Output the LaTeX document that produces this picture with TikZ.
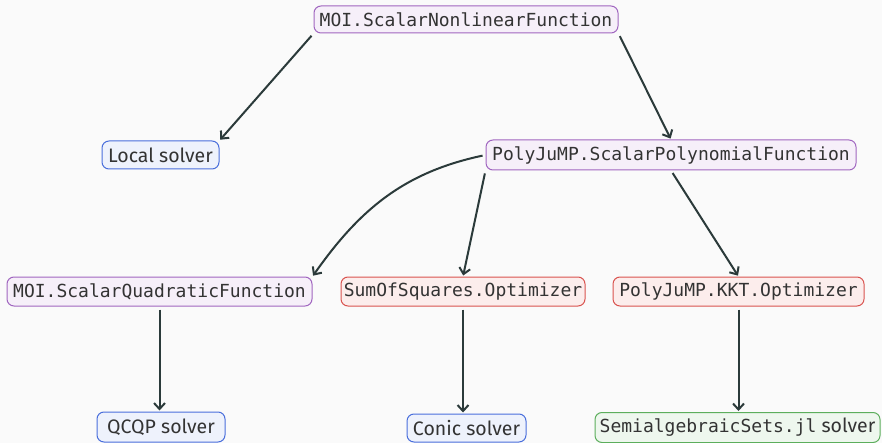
\documentclass[tikz,border=0pt]{standalone}
\usepackage{fontspec}
\setmainfont{Fira Sans}
\setmonofont{DejaVu Sans Mono}
\usetikzlibrary{arrows.meta}
\definecolor{bg}{HTML}{FAFAFA}
\definecolor{edge}{HTML}{2B3A3A}
\definecolor{txt}{HTML}{333333}
\definecolor{purpleB}{HTML}{A066C0}
\definecolor{purpleF}{HTML}{F6EFF9}
\definecolor{redB}{HTML}{D9534F}
\definecolor{redF}{HTML}{FCEDEC}
\definecolor{blueB}{HTML}{4A6FDC}
\definecolor{blueF}{HTML}{EEF2FC}
\definecolor{greenB}{HTML}{5CAE5C}
\definecolor{greenF}{HTML}{EEF7EE}
\newcommand{\mono}{\ttfamily\fontsize{18}{21}\selectfont}
\tikzset{
  x=1pt, y=-1pt,
  box/.style={draw, line width=1pt, rounded corners=7pt, inner sep=0pt, text=txt, font=\fontsize{19.5}{22}\selectfont},
  fnbox/.style={box, draw=purpleB, fill=purpleF},
  optbox/.style={box, draw=redB, fill=redF},
  solbox/.style={box, draw=blueB, fill=blueF},
  semibox/.style={box, draw=greenB, fill=greenF},
  conn/.style={draw=edge, line width=2pt, -{Straight Barb[length=6pt,width=11pt,line width=2pt]}, shorten <=3pt, shorten >=1pt},
}
\begin{document}
\begin{tikzpicture}
\fill[bg] (0,0) rectangle (882,443);
\useasboundingbox (0,0) rectangle (882,443);
\node[fnbox, minimum width=304pt, minimum height=27pt] (nl) at (466,19.5) {\mono MOI.ScalarNonlinearFunction};
\node[solbox, minimum width=117pt, minimum height=28pt] (local) at (160.5,155) {Local solver};
\node[fnbox, minimum width=370pt, minimum height=30pt] (poly) at (671,155) {\mono PolyJuMP.ScalarPolynomialFunction};
\node[fnbox, minimum width=305pt, minimum height=29pt] (quad) at (159.5,291.5) {\mono MOI.ScalarQuadraticFunction};
\node[optbox, minimum width=244pt, minimum height=29pt] (sos) at (463,291.5) {\mono SumOfSquares.Optimizer};
\node[optbox, minimum width=251pt, minimum height=29pt] (kkt) at (738.5,291.5) {\mono PolyJuMP.KKT.Optimizer};
\node[solbox, minimum width=128pt, minimum height=30pt] (qcqp) at (161,427) {QCQP solver};
\node[solbox, minimum width=119pt, minimum height=28pt] (conic) at (466.5,428) {Conic solver};
\node[semibox, minimum width=285pt, minimum height=30pt] (semi) at (737.5,427.5) {{\mono SemialgebraicSets.jl}\ solver};
\draw[conn] (nl.south west) -- (local.north east);
\draw[conn] (nl.south east) -- (poly.north);
\draw[conn] (poly.west) to[out=192,in=55] (quad.north east);
\draw[conn] (poly.south west) -- (sos.north);
\draw[conn] (poly.south) -- (kkt.north);
\draw[conn] (quad.south) -- (quad.south |- qcqp.north);
\draw[conn] (sos.south) -- (sos.south |- conic.north);
\draw[conn] (kkt.south) -- (kkt.south |- semi.north);
\end{tikzpicture}
\end{document}
